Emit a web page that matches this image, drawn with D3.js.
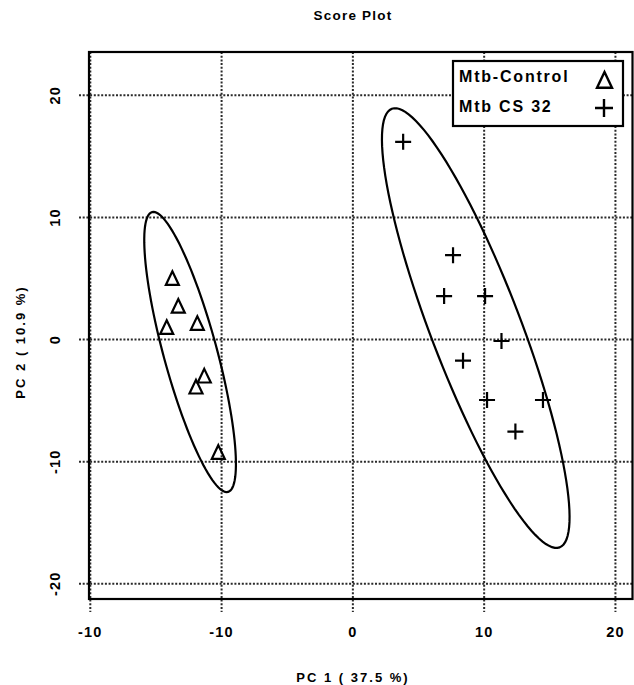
<!DOCTYPE html>
<html><head><meta charset="utf-8">
<script src="https://cdn.jsdelivr.net/npm/d3@7"></script>
<style>body{margin:0;background:#fff}</style>
</head><body><svg id="c" width="634" height="685"></svg>
<script>
// ---- data ----
const xTicks = [-20, -10, 0, 10, 20];
const xTickLabels = ["-10", "-10", "0", "10", "20"];
const yTicks = [-20, -10, 0, 10, 20];
const yTickLabels = ["-20", "-10", "0", "10", "20"];
const groups = ["Mtb-Control", "Mtb CS 32"];
const controlPC1 = [-13.75, -13.30, -14.18, -11.85, -11.32, -11.95, -10.25];
const controlPC2 = [4.95, 2.68, 0.94, 1.27, -3.04, -3.94, -9.29];
const cs32PC1 = [3.83, 7.63, 6.95, 10.07, 11.32, 8.39, 10.22, 14.48, 12.38];
const cs32PC2 = [16.19, 6.91, 3.56, 3.56, -0.12, -1.73, -4.95, -4.95, -7.54];
// confidence ellipses: centre and two conjugate semi-axis vectors (data units)
const ellipseCenterPC1 = [-12.40, 9.36];
const ellipseCenterPC2 = [-1.02, 0.94];
const ellipseAxisAPC1 = [2.89, 6.39];
const ellipseAxisAPC2 = [-11.46, -17.96];
const ellipseAxisBPC1 = [1.96, 3.20];
const ellipseAxisBPC2 = [0.57, 1.31];
const xDomain = [-20.1, 21.3];
const yDomain = [-21.25, 23.55];

// ---- drawing ----
const svg = d3.select("#c");
const L = 89, R = 632.5, T = 52, B = 599;
const x = d3.scaleLinear().domain(xDomain).range([L, R]);
const y = d3.scaleLinear().domain(yDomain).range([B, T]);
const FONT = "'Liberation Sans', Arial, Helvetica, sans-serif";
const gridCol = "#2a2a2a";

// grid (with outward dotted tick extensions)
const grid = svg.append("g").attr("stroke", gridCol).attr("stroke-width", 2)
  .attr("stroke-dasharray", "2,1.7");
grid.selectAll("line.v").data(xTicks).join("line").attr("class", "v")
  .attr("x1", d => x(d)).attr("x2", d => x(d)).attr("y1", T).attr("y2", B + 13);
grid.selectAll("line.h").data(yTicks).join("line").attr("class", "h")
  .attr("y1", d => y(d)).attr("y2", d => y(d)).attr("x1", L - 10).attr("x2", R);

// ellipses
const tSteps = d3.range(0, 121).map(i => i / 120 * 2 * Math.PI);
const ell = d3.line().curve(d3.curveLinearClosed);
groups.forEach((g, i) => {
  const pts = tSteps.map(t => [
    x(ellipseCenterPC1[i] + ellipseAxisAPC1[i] * Math.cos(t) + ellipseAxisBPC1[i] * Math.sin(t)),
    y(ellipseCenterPC2[i] + ellipseAxisAPC2[i] * Math.cos(t) + ellipseAxisBPC2[i] * Math.sin(t))
  ]);
  svg.append("path").attr("d", ell(pts)).attr("fill", "none")
    .attr("stroke", "#000").attr("stroke-width", 2.2);
});

// markers
const triPath = s => `M0,${-s*0.6}L${s*0.5},${s*0.45}L${-s*0.5},${s*0.45}Z`;
const plusPath = s => `M${-s/2},0H${s/2}M0,${-s/2}V${s/2}`;
svg.append("g").selectAll("path").data(d3.range(controlPC1.length)).join("path")
  .attr("transform", i => `translate(${x(controlPC1[i])},${y(controlPC2[i])})`)
  .attr("d", triPath(13)).attr("fill", "none").attr("stroke", "#000").attr("stroke-width", 2.2);
svg.append("g").selectAll("path").data(d3.range(cs32PC1.length)).join("path")
  .attr("transform", i => `translate(${x(cs32PC1[i])},${y(cs32PC2[i])})`)
  .attr("d", plusPath(16)).attr("fill", "none").attr("stroke", "#000").attr("stroke-width", 2.2);

// box
svg.append("rect").attr("x", L).attr("y", T).attr("width", R - L).attr("height", B - T)
  .attr("fill", "none").attr("stroke", "#000").attr("stroke-width", 2.2);

// tick labels
svg.append("g").selectAll("text").data(xTicks).join("text")
  .attr("x", d => x(d)).attr("y", 637).attr("text-anchor", "middle")
  .attr("font-family", FONT).attr("font-weight", "bold").attr("font-size", 14.5)
  .attr("letter-spacing", 1.2).text((d, i) => xTickLabels[i]);
svg.append("g").selectAll("text").data(yTicks).join("text")
  .attr("transform", d => `translate(60,${y(d)}) rotate(-90)`).attr("text-anchor", "middle")
  .attr("font-family", FONT).attr("font-weight", "bold").attr("font-size", 14.5)
  .attr("letter-spacing", 1.2).text((d, i) => yTickLabels[i]);

// titles
svg.append("text").attr("x", 353).attr("y", 20).attr("text-anchor", "middle")
  .attr("font-family", FONT).attr("font-weight", "bold").attr("font-size", 13.5)
  .attr("letter-spacing", 1.2).text("Score Plot");
svg.append("text").attr("x", 353).attr("y", 682).attr("text-anchor", "middle")
  .attr("font-family", FONT).attr("font-weight", "bold").attr("font-size", 13)
  .attr("letter-spacing", 2).text("PC 1 ( 37.5 %)");
svg.append("text").attr("transform", "translate(25,342) rotate(-90)").attr("text-anchor", "middle")
  .attr("font-family", FONT).attr("font-weight", "bold").attr("font-size", 13)
  .attr("letter-spacing", 2).text("PC 2 ( 10.9 %)");

// legend
const lg = svg.append("g");
lg.append("rect").attr("x", 453).attr("y", 61).attr("width", 170).attr("height", 65)
  .attr("fill", "#fff").attr("stroke", "#000").attr("stroke-width", 2.2);
groups.forEach((g, i) => {
  lg.append("text").attr("x", 459).attr("y", 82 + i * 30)
    .attr("font-family", FONT).attr("font-weight", "bold").attr("font-size", 16)
    .attr("letter-spacing", 1.8).text(g);
});
lg.append("path").attr("transform", "translate(604.5,81)").attr("d", triPath(15))
  .attr("fill", "none").attr("stroke", "#000").attr("stroke-width", 2.4);
lg.append("path").attr("transform", "translate(604,108)").attr("d", plusPath(18))
  .attr("fill", "none").attr("stroke", "#000").attr("stroke-width", 2.4);
</script></body></html>
